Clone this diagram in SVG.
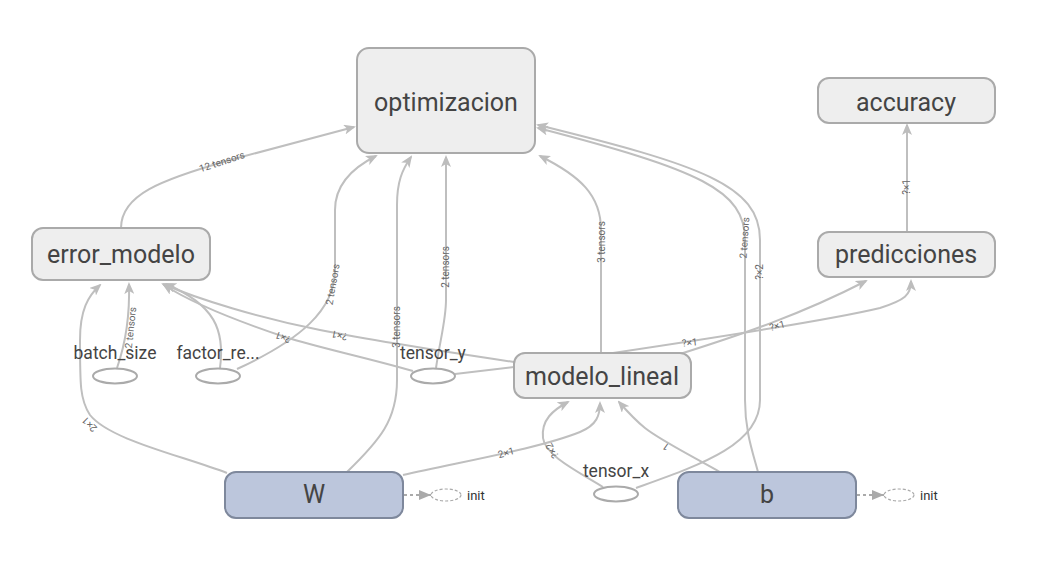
<svg xmlns="http://www.w3.org/2000/svg" width="1045" height="567" viewBox="0 0 1045 567">
<defs>
<marker id="arr" viewBox="0 0 12 10" refX="10" refY="5" markerWidth="12" markerHeight="10" markerUnits="userSpaceOnUse" orient="auto">
<path d="M0,0 L12,5 L0,10 L3,5 z" fill="#bdbdbd"/>
</marker>
<marker id="arrInit" viewBox="0 0 12 10" refX="12" refY="5" markerWidth="12" markerHeight="10" markerUnits="userSpaceOnUse" orient="auto">
<path d="M0,0 L12,5 L0,10 z" fill="#aaaaaa"/>
</marker>
</defs>
<style>
.edge{fill:none;stroke:#bfbfbf;stroke-width:2;marker-end:url(#arr)}
.plain{fill:none;stroke:#bfbfbf;stroke-width:2}
.el{font-family:Roboto,"Liberation Sans",sans-serif;font-size:10px;fill:#666;text-anchor:middle}
.node rect{fill:#eeeeee;stroke:#aaaaaa;stroke-width:2}
.var rect{fill:#bcc6dc;stroke:#7e889c;stroke-width:2}
.nt{font-family:Roboto,"Liberation Sans",sans-serif;font-size:25px;fill:#444;text-anchor:middle}
.st{font-family:Roboto,"Liberation Sans",sans-serif;font-size:17.5px;fill:#444;text-anchor:middle}
.ell{fill:#ffffff;stroke:#aaaaaa;stroke-width:2}
.init{fill:none;stroke:#aaaaaa;stroke-width:1.2;stroke-dasharray:3,2}
.initline{fill:none;stroke:#aaaaaa;stroke-width:2;stroke-dasharray:3,3;marker-end:url(#arrInit)}
.it{font-family:Roboto,"Liberation Sans",sans-serif;font-size:13px;fill:#333;text-anchor:start}
</style>
<rect width="1045" height="567" fill="#ffffff"/>
<g id="connectors">
<path class="edge" d="M121,228 C121,195 160,180 230,160 L354,127"/>
<path class="edge" d="M237,369 C300,340 335,310 335,270 L335,210 C335,185 352,168 376,156"/>
<path class="edge" d="M347,472 C380,440 397,420 397,380 L397,205 C397,182 402,170 411,157"/>
<path class="edge" d="M436,368 C440,340 446,320 446,300 L446,157"/>
<path class="edge" d="M601,353 L601,230 C601,195 580,176 540,156"/>
<path class="edge" d="M758,472 C752,450 745,430 745,400 L745,240 C745,190 700,170 538,128"/>
<path class="edge" d="M636,488 C700,465 760,445 760,400 L760,240 C760,185 700,165 538,125"/>
<path class="edge" d="M907,232 L907,125"/>
<path class="edge" d="M613,353 C700,340 830,320 880,308 C905,300 911,295 911,281"/>
<path class="edge" d="M680,354 C740,335 800,315 866,281"/>
<path class="edge" d="M117,368 C125,345 130,320 129,284"/>
<path class="edge" d="M220,368 C225,330 215,305 166,284"/>
<path class="edge" d="M413,371 C360,356 320,348 285,337 C240,322 195,305 164,285"/>
<path class="edge" d="M514,362 C420,348 370,340 320,330 C260,318 200,300 163,284"/>
<path class="edge" d="M227,473 C180,455 110,440 90,415 C80,400 80,385 80,340 C80,310 88,296 100,285"/>
<path class="plain" d="M455,374 L514,367"/>
<path class="edge" d="M403,475 C470,460 540,448 580,432 C597,425 600,415 600,403"/>
<path class="edge" d="M603,487 C575,470 545,455 543,438 C541,420 553,410 568,402"/>
<path class="edge" d="M720,472 C690,455 660,440 645,428 C635,420 626,410 619,402"/>
<path class="initline" d="M404,495 L431,495"/>
<path class="initline" d="M857,495 L884,495"/>
<text class="el" transform="translate(223,165) rotate(-18)">12 tensors</text>
<text class="el" transform="translate(336,285) rotate(-80)">2 tensors</text>
<text class="el" transform="translate(400,327) rotate(-90)">3 tensors</text>
<text class="el" transform="translate(449,267) rotate(-90)">2 tensors</text>
<text class="el" transform="translate(605,242) rotate(-90)">3 tensors</text>
<text class="el" transform="translate(748,238) rotate(-86)">2 tensors</text>
<text class="el" transform="translate(763,272) rotate(-90)">?×2</text>
<text class="el" transform="translate(910,187) rotate(-90)">?×1</text>
<text class="el" transform="translate(134,328) rotate(-84)">2 tensors</text>
<text class="el" transform="translate(284,334) rotate(200)">?×1</text>
<text class="el" transform="translate(340,332) rotate(192)">?×1</text>
<text class="el" transform="translate(690,346) rotate(-6)">?×1</text>
<text class="el" transform="translate(778,329) rotate(-15)">?×1</text>
<text class="el" transform="translate(92,422) rotate(-135)">2×1</text>
<text class="el" transform="translate(507,456) rotate(-15)">2×1</text>
<text class="el" transform="translate(555,449) rotate(-120)">?×2</text>
<text class="el" transform="translate(668,444) rotate(215)">1</text>
</g>
<g id="optimizacion" class="node"><rect x="357" y="48" width="178" height="105" rx="12"/><text class="nt" x="446" y="111">optimizacion</text></g>
<g id="accuracy" class="node"><rect x="818" y="78" width="177" height="45" rx="11"/><text class="nt" x="906" y="111">accuracy</text></g>
<g id="predicciones" class="node"><rect x="818" y="232" width="177" height="45" rx="11"/><text class="nt" x="906" y="263">predicciones</text></g>
<g id="error_modelo" class="node"><rect x="32" y="228" width="178" height="52" rx="11"/><text class="nt" x="121" y="263">error_modelo</text></g>
<g id="modelo_lineal" class="node"><rect x="514" y="353" width="177" height="45" rx="11"/><text class="nt" x="602" y="385">modelo_lineal</text></g>
<g id="W" class="var"><rect x="225" y="472" width="178" height="46" rx="11"/><text class="nt" x="314" y="503">W</text></g>
<g id="b" class="var"><rect x="678" y="472" width="178" height="46" rx="11"/><text class="nt" x="767" y="503">b</text></g>
<g id="batch_size"><ellipse class="ell" cx="115" cy="376" rx="22" ry="7.5"/><text class="st" x="115" y="359">batch_size</text></g>
<g id="factor_re"><ellipse class="ell" cx="218" cy="376" rx="22" ry="7.5"/><text class="st" x="218" y="359">factor_re...</text></g>
<g id="tensor_y"><ellipse class="ell" cx="433" cy="376" rx="22" ry="7.5"/><text class="st" x="433" y="359">tensor_y</text></g>
<g id="tensor_x"><ellipse class="ell" cx="616" cy="494" rx="22" ry="7.5"/><text class="st" x="616" y="477">tensor_x</text></g>
<g id="W_init"><ellipse class="init" cx="446" cy="495" rx="15" ry="6"/><text class="it" x="467" y="500">init</text></g>
<g id="b_init"><ellipse class="init" cx="899" cy="495" rx="15" ry="6"/><text class="it" x="920" y="500">init</text></g>
</svg>
